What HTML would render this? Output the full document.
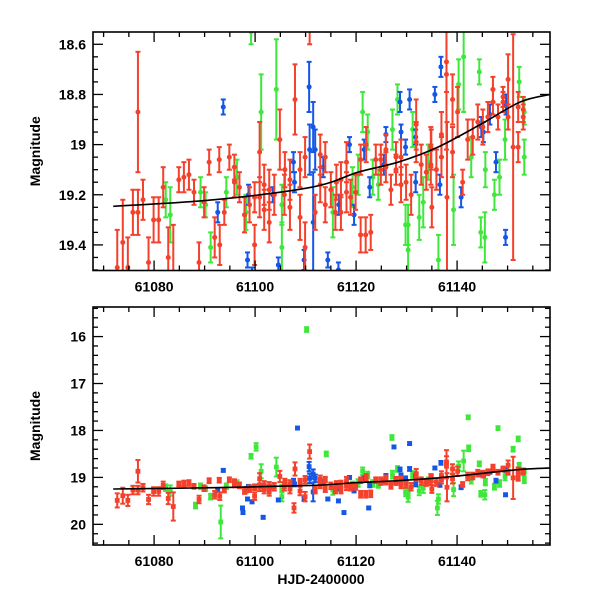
<!DOCTYPE html>
<html><head><meta charset="utf-8"><style>
html,body{margin:0;padding:0;background:#fff;}
svg text{font-family:"Liberation Sans",sans-serif;font-weight:bold;font-size:14px;fill:#000;}
</style></head><body>
<svg id="chart" width="600" height="600" viewBox="0 0 600 600" xmlns="http://www.w3.org/2000/svg"></svg>
<script>
const redDays=[61072.7,61073.8,61074.8,61075.8,61076.8,61076.8,61077.8,61078.9,61079.9,61080.9,61081.8,61082.8,61083.8,61084.9,61085.9,61086.9,61087.9,61088.9,61089.9,61090.9,61092.0,61093.0,61092.9,61093.9,61094.9,61095.9,61095.9,61096.9,61097.9,61098.9,61099.9,61099.9,61100.9,61100.9,61101.8,61101.8,61102.8,61102.8,61103.8,61104.9,61105.9,61105.8,61106.9,61106.9,61107.7,61107.9,61108.9,61108.9,61109.9,61109.9,61110.8,61111.9,61112.9,61112.9,61113.9,61113.9,61115.0,61115.9,61116.1,61117.0,61117.0,61118.1,61118.1,61118.9,61119.9,61120.9,61121.9,61122.9,61120.9,61122.0,61123.9,61124.9,61124.9,61125.9,61125.9,61126.9,61127.9,61127.9,61128.9,61128.9,61129.9,61130.9,61131.9,61131.9,61132.9,61133.9,61134.8,61134.8,61134.9,61135.9,61136.9,61136.9,61135.0,61137.9,61137.9,61138.0,61139.1,61139.1,61140.1,61141.1,61142.1,61143.1,61144.1,61145.1,61146.1,61147.1,61147.1,61148.1,61149.1,61149.1,61150.1,61150.1,61151.1,61152.1,61152.1,61153.1,61153.1];
const redMags=[19.49,19.39,19.49,19.27,19.27,18.87,19.22,19.47,19.30,19.30,19.17,19.45,19.62,19.14,19.13,19.12,19.19,19.47,19.23,19.07,19.37,19.40,19.06,19.27,19.05,19.09,19.15,19.17,19.28,19.24,19.21,19.40,19.03,19.21,19.16,19.26,19.18,19.31,19.20,18.98,19.10,19.20,19.14,19.25,19.65,18.82,19.10,19.29,19.05,19.41,18.45,19.27,19.04,19.16,19.05,19.24,19.18,19.27,19.15,19.14,19.27,19.07,19.19,19.21,19.19,19.36,19.36,19.35,19.06,19.00,19.06,19.06,19.10,19.02,19.09,19.18,19.05,19.10,19.05,19.16,19.15,19.20,18.92,18.99,19.08,19.11,19.08,19.01,19.02,19.10,19.05,18.96,19.25,18.67,18.72,19.21,18.82,19.03,18.87,19.15,18.98,18.97,18.91,18.93,18.89,18.83,18.78,18.89,18.81,18.83,18.89,18.74,19.01,19.01,18.85,18.89,18.86];
const redErrs=[0.15,0.17,0.12,0.09,0.09,0.24,0.08,0.1,0.09,0.09,0.08,0.12,0.3,0.05,0.06,0.06,0.05,0.08,0.06,0.05,0.08,0.08,0.05,0.05,0.05,0.05,0.06,0.06,0.07,0.07,0.06,0.08,0.12,0.08,0.08,0.08,0.08,0.08,0.08,0.12,0.07,0.08,0.08,0.09,0.1,0.14,0.07,0.09,0.08,0.1,0.15,0.07,0.08,0.07,0.06,0.07,0.07,0.07,0.07,0.07,0.07,0.08,0.08,0.07,0.07,0.07,0.07,0.07,0.06,0.07,0.06,0.06,0.06,0.06,0.06,0.06,0.06,0.06,0.07,0.07,0.07,0.08,0.1,0.08,0.08,0.07,0.08,0.08,0.08,0.08,0.08,0.09,0.08,0.12,0.3,0.3,0.1,0.1,0.1,0.05,0.08,0.07,0.07,0.07,0.06,0.05,0.05,0.05,0.04,0.04,0.05,0.1,0.45,0.06,0.06,0.05,0.05];
const greenDays=[61082.3,61083.2,61088.2,61089.2,61090.2,61091.2,61093.2,61094.3,61096.4,61098.2,61099.2,61100.2,61101.2,61104.2,61105.3,61105.3,61110.2,61114.1,61115.4,61119.3,61120.4,61121.3,61122.3,61123.3,61124.4,61127.1,61127.2,61128.2,61129.8,61130.3,61130.3,61131.2,61132.5,61133.3,61134.3,61136.1,61136.3,61139.3,61140.3,61141.3,61142.2,61142.3,61142.8,61144.4,61144.7,61145.5,61145.6,61147.4,61148.1,61148.4,61149.5,61151.1,61152.1,61152.3,61153.3,61153.3];
const greenMags=[19.22,19.28,19.60,19.19,19.24,19.41,19.95,19.19,19.13,19.27,18.55,18.35,18.87,18.78,19.24,19.41,15.85,18.50,19.27,19.17,19.12,18.87,18.95,19.13,19.16,18.15,18.94,18.82,19.32,19.32,19.42,18.94,19.29,19.23,19.07,19.65,19.46,19.26,18.76,18.65,17.72,18.38,19.05,18.71,19.35,19.37,19.10,19.20,17.95,19.13,18.98,18.40,18.18,18.75,19.05,18.87];
const greenErrs=[0.07,0.11,0.06,0.06,0.05,0.06,0.35,0.06,0.07,0.07,0.05,0.08,0.15,0.2,0.08,0.1,0.05,0.05,0.1,0.08,0.08,0.08,0.07,0.07,0.06,0.05,0.08,0.06,0.08,0.08,0.1,0.07,0.09,0.1,0.07,0.15,0.1,0.14,0.1,0.22,0.04,0.06,0.08,0.05,0.06,0.1,0.07,0.06,0.04,0.07,0.08,0.05,0.05,0.06,0.07,0.05];
const blueDays=[61092.6,61093.7,61097.5,61097.6,61098.5,61098.7,61099.4,61101.6,61103.5,61104.6,61107.6,61107.8,61108.4,61109.7,61110.7,61110.8,61111.5,61111.9,61111.5,61113.5,61114.4,61116.5,61116.6,61117.6,61118.7,61119.6,61121.6,61122.5,61122.7,61125.5,61125.9,61127.5,61128.7,61128.9,61129.8,61130.6,61130.6,61131.8,61131.8,61135.6,61136.6,61136.8,61140.8,61144.8,61145.2,61146.5,61147.7,61149.6,61149.7];
const blueMags=[19.27,18.85,19.65,19.75,19.46,19.20,19.52,19.85,19.20,19.48,19.07,19.15,17.95,19.46,18.77,19.02,18.93,19.02,19.31,19.09,19.46,19.50,19.24,19.75,19.00,19.28,19.02,19.65,19.17,19.08,18.96,18.35,18.83,18.95,19.01,18.82,18.28,18.97,19.15,18.80,19.16,18.69,19.21,18.93,18.95,18.88,19.07,19.37,18.84];
const blueErrs=[0.04,0.03,0.03,0.03,0.03,0.04,0.03,0.03,0.03,0.03,0.04,0.04,0.03,0.04,0.1,0.1,0.1,0.08,0.2,0.04,0.03,0.03,0.04,0.03,0.03,0.04,0.04,0.03,0.04,0.04,0.03,0.03,0.04,0.03,0.03,0.04,0.03,0.03,0.04,0.03,0.04,0.04,0.04,0.04,0.04,0.04,0.04,0.03,0.04];
const curveDays=[61071.9,61091.7,61111.2,61120.4,61128.3,61136.2,61144.6,61152.5,61158.4];
const curveMags=[19.246,19.22,19.17,19.11,19.07,19.01,18.92,18.83,18.80];
const xTicks=[61080,61100,61120,61140];
const topYTicks=[18.6,18.8,19,19.2,19.4];
const botYTicks=[16,17,18,19,20];

const NS='http://www.w3.org/2000/svg';
const svg=document.getElementById('chart');
const L=93,R=550;
const D0=61067.9,D1=61158.4;
const xs=d=>L+(d-D0)/(D1-D0)*(R-L);
const panels=[
 {name:'top',T:32,B:270.5,m0:18.551,m1:19.502,ticks:topYTicks,minor:0.05,labelFmt:v=>String(+v.toFixed(1)),square:false},
 {name:'bottom',T:307,B:545,m0:15.37,m1:20.44,ticks:botYTicks,minor:0.2,labelFmt:v=>String(v),square:true}
];
function mk(tag,attrs,parent){const e=document.createElementNS(NS,tag);for(const k in attrs)e.setAttribute(k,attrs[k]);(parent||svg).appendChild(e);return e;}
const defs=mk('defs',{});
panels.forEach(p=>{
 const ys=m=>p.T+(m-p.m0)/(p.m1-p.m0)*(p.B-p.T);
 const cp=mk('clipPath',{id:'clip-'+p.name},defs);
 mk('rect',{x:L,y:p.T,width:R-L,height:p.B-p.T},cp);
 const g=mk('g',{'clip-path':'url(#clip-'+p.name+')'});
 
 
 const series=[['green','#3ee83a',greenDays,greenMags,greenErrs],['blue','#1456e6',blueDays,blueMags,blueErrs],['red','#f4412c',redDays,redMags,redErrs]];
 series.forEach(([nm,col,dd,mm,ee])=>{
  const sg=mk('g',{},g);
  
  
  for(let i=0;i<dd.length;i++){
   const x=xs(dd[i]),y=ys(mm[i]),y1=ys(mm[i]-ee[i]),y2=ys(mm[i]+ee[i]);
   const pg=mk('g',{},sg);
   
   
   mk('line',{x1:x,y1:y1,x2:x,y2:y2,stroke:col,'stroke-width':2},pg);
   mk('line',{x1:x-2.5,y1:y1,x2:x+2.5,y2:y1,stroke:col,'stroke-width':2},pg);
   mk('line',{x1:x-2.5,y1:y2,x2:x+2.5,y2:y2,stroke:col,'stroke-width':2},pg);
   if(p.square) mk('rect',{x:x-2.4,y:y-2.4,width:4.8,height:4.8,fill:col},pg);
   else mk('circle',{cx:x,cy:y,r:2.5,fill:col},pg);
  }
 });
 // smooth Catmull-Rom curve through model points
 const P=curveDays.map((c,i)=>[xs(c),ys(curveMags[i])]);
 let d='M'+P[0][0].toFixed(1)+','+P[0][1].toFixed(1);
 for(let i=0;i<P.length-1;i++){
  const p0=P[Math.max(i-1,0)],p1=P[i],p2=P[i+1],p3=P[Math.min(i+2,P.length-1)];
  const c1=[p1[0]+(p2[0]-p0[0])/6,p1[1]+(p2[1]-p0[1])/6];
  const c2=[p2[0]-(p3[0]-p1[0])/6,p2[1]-(p3[1]-p1[1])/6];
  d+='C'+c1[0].toFixed(1)+','+c1[1].toFixed(1)+' '+c2[0].toFixed(1)+','+c2[1].toFixed(1)+' '+p2[0].toFixed(1)+','+p2[1].toFixed(1);
 }
 const cv=mk('path',{d:d,fill:'none',stroke:'#000','stroke-width':1.6},g);
 
 
 const fr=mk('rect',{x:L,y:p.T,width:R-L,height:p.B-p.T,fill:'none',stroke:'#000','stroke-width':1.6});
 
 
 const ax=mk('g',{stroke:'#000','stroke-width':1.3});
 
 
 for(let dd=61070;dd<=61155;dd+=5){
  const x=xs(dd),len=(dd%20===0)?10:5;
  mk('line',{x1:x,y1:p.B,x2:x,y2:p.B-len},ax);
  mk('line',{x1:x,y1:p.T,x2:x,y2:p.T+len},ax);
 }
 const start=Math.ceil(p.m0/p.minor-1e-6);
 for(let k=start;k*p.minor<=p.m1;k++){
  const m=k*p.minor,y=ys(m);
  const isMaj=p.ticks.some(t=>Math.abs(t-m)<1e-6);
  const len=isMaj?10:5;
  mk('line',{x1:L,y1:y,x2:L+len,y2:y},ax);
  mk('line',{x1:R,y1:y,x2:R-len,y2:y},ax);
 }
 p.ticks.forEach(t=>{
  const tx=mk('text',{x:86,y:ys(t)+5,'text-anchor':'end'});
  tx.textContent=p.labelFmt(t);
  
  
 });
 xTicks.forEach(t=>{
  const tx=mk('text',{x:xs(t),y:p.B+21,'text-anchor':'middle'});
  tx.textContent=String(t);
  
  
 });
 const yl=mk('text',{x:0,y:0,'text-anchor':'middle',transform:'translate(40,'+((p.T+p.B)/2)+') rotate(-90)'});
 yl.textContent='Magnitude';
 
 
});
const xl=mk('text',{x:321,y:584,'text-anchor':'middle'});
xl.textContent='HJD-2400000';


</script>
</body></html>
